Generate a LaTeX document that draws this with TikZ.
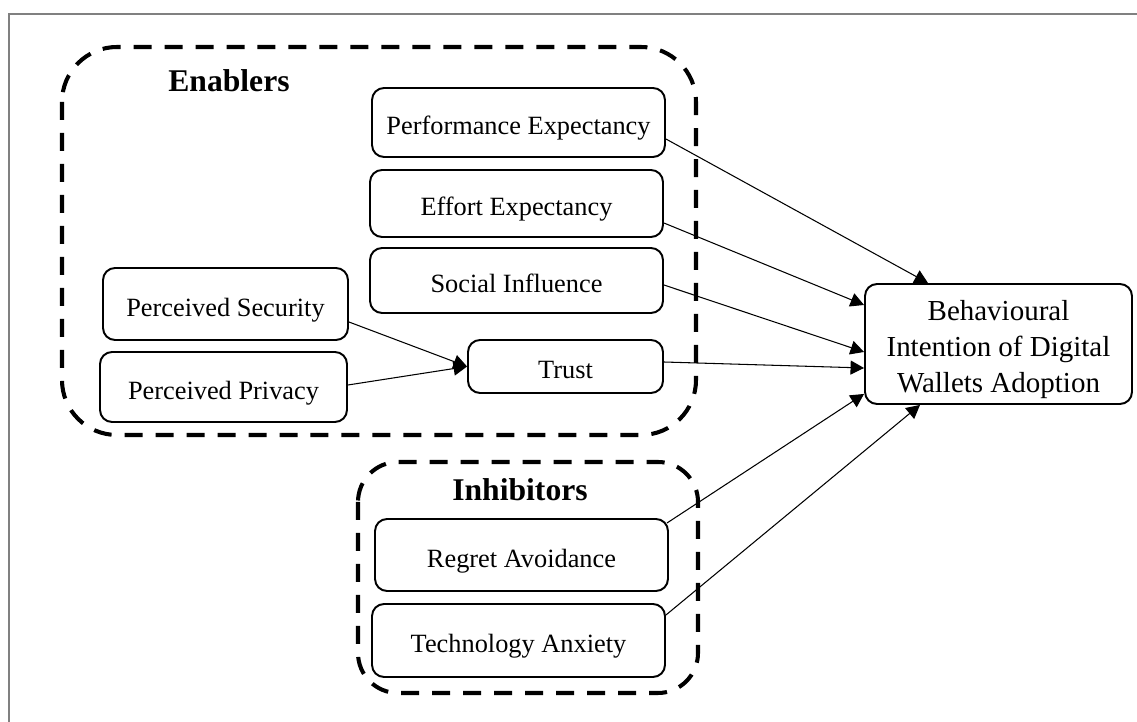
\documentclass[tikz,border=0pt]{standalone}
\usepackage{fontspec}
\setmainfont{Liberation Serif}
\usetikzlibrary{arrows.meta,positioning,calc}

\begin{document}
\begin{tikzpicture}[x=0.02cm, y=-0.02cm,
  box/.style={draw, line width=1.1pt, rounded corners=0.24cm, inner sep=0pt, align=center, font=\fontsize{15}{18}\selectfont},
  factor/.style={box, text height=15pt, text depth=1.3pt},
  group/.style={draw, line width=2.3pt, dash pattern=on 0.36cm off 0.26cm},
  grouptitle/.style={font=\fontsize{18}{22}\selectfont\bfseries},
  link/.style={-{Triangle[length=0.27cm,width=0.28cm]}, line width=0.6pt}]
  \useasboundingbox (0,0) rectangle (1137,722);
  \draw[gray, line width=1.2pt] (9,722) -- (9,14) -- (1137,14);% outer frame
  % the two groups
  \draw[group, rounded corners=1.1cm] (62,47) rectangle (696,435);
  \draw[group, rounded corners=0.8cm] (358,462) rectangle (698,693);
  \node[grouptitle] (enablers) at (229,81) {Enablers};
  \node[grouptitle] (inhibitors) at (520,490) {Inhibitors};
  % factors
  \node[factor, minimum width=5.86cm, minimum height=1.38cm] (pe) at (518.5,122.5) {Performance Expectancy};
  \node[factor, minimum width=5.86cm, minimum height=1.34cm] (ee) at (516.5,203.5) {Effort Expectancy};
  \node[factor, minimum width=5.86cm, minimum height=1.30cm] (si) at (516.5,280.5) {Social Influence};
  \node[factor, minimum width=3.90cm, minimum height=1.06cm] (trust) at (565.5,366.5) {Trust};
  \node[factor, minimum width=4.90cm, minimum height=1.44cm] (ps) at (225.5,304) {Perceived Security};
  \node[factor, minimum width=4.94cm, minimum height=1.40cm] (pp) at (223.5,387) {Perceived Privacy};
  \node[factor, minimum width=5.86cm, minimum height=1.44cm] (ra) at (521.5,555) {Regret Avoidance};
  \node[factor, minimum width=5.86cm, minimum height=1.46cm] (ta) at (518.5,640.5) {Technology Anxiety};
  \node[box, minimum width=5.34cm, minimum height=2.40cm, font=\fontsize{16.5}{20.5}\selectfont] (bi) at (998.5,344) {\rule{0pt}{18.2pt}Behavioural\\Intention of Digital\\Wallets Adoption};
  % paths
  \draw[link] ([yshift=-0.33cm]pe.east) -- ([xshift=-1.41cm]bi.north);
  \draw[link] ([yshift=-0.39cm]ee.east) -- ([yshift=0.78cm]bi.west);
  \draw[link] ([yshift=-0.09cm]si.east) -- ([yshift=-0.16cm]bi.west);
  \draw[link] ([yshift=0.09cm]trust.east) -- ([yshift=-0.48cm]bi.west);
  \draw[link] ([xshift=-0.04cm, yshift=-0.1cm]ra.north east) -- ([yshift=0.22cm]bi.south west);
  \draw[link] ([yshift=0.51cm]ta.east) -- ([xshift=-1.57cm]bi.south);
  \draw[link] ([yshift=-0.36cm]ps.east) -- (trust.west);
  \draw[link] ([yshift=0.04cm]pp.east) -- (trust.west);
\end{tikzpicture}
\end{document}
